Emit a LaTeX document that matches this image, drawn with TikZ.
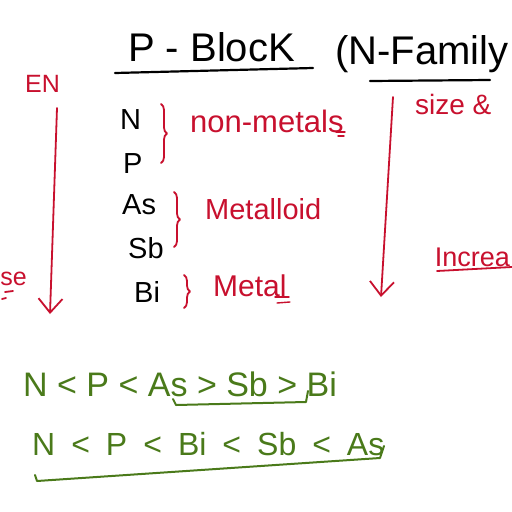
\documentclass[tikz,border=0pt]{standalone}
\usepackage{fontspec}
\setmainfont{Liberation Sans}
\usetikzlibrary{arrows.meta,decorations.pathreplacing}
\definecolor{inkred}{RGB}{200,16,46}
\definecolor{inkgreen}{RGB}{74,122,26}
\newcommand\fsz[1]{\fontsize{#1}{#1}\selectfont}
\newcommand\gp{\hspace{0.5em}}
\begin{document}
\begin{tikzpicture}[x=1pt,y=-1pt,
  txt/.style={inner sep=0pt,anchor=base west},
  blk/.style={txt,text=black},
  rd/.style={txt,text=inkred},
  gr/.style={txt,text=inkgreen},
  redline/.style={draw=inkred,line width=1.8pt,line cap=round,line join=round},
  blkline/.style={draw=black,line width=2.2pt,line cap=round},
  grline/.style={draw=inkgreen,line width=2pt,line cap=round,line join=round},
  downarrow/.style={redline,-{Straight Barb[length=14pt,width=24pt,line width=1.8pt]}},
  bracestyle/.style={redline,decorate,decoration={brace,amplitude=6pt}}]
\useasboundingbox (0,0) rectangle (512,512);
\clip (0,0) rectangle (512,512);
\fill[white] (0,0) rectangle (512,512);

% title
\node[blk,font=\fsz{40}] (title) at (128,61) {P - BlocK};
\node[blk,font=\fsz{40}] (family) at (335,64) {(N-Family};
\draw[blkline] (115,73) -- (313,68);
\draw[blkline] (370,81) -- (490,80);

% left arrow: electronegativity
\node[rd,font=\fsz{25}] (en) at (25,92) {EN};
\coordinate (enTop) at (57,108);
\coordinate (enBot) at (50,314);
\draw[downarrow] (enTop) -- (enBot);
\node[rd,font=\fsz{25},anchor=base east] (decr) at (27,285) {se};
\draw[redline] (5,292) -- (13,291);
\draw[redline] (2,299) -- (6,298);

% right arrow: size
\node[rd,font=\fsz{28}] (size) at (415,114) {size \&};
\coordinate (szTop) at (393,97);
\coordinate (szBot) at (381,297);
\draw[downarrow] (szTop) -- (szBot);
\node[rd,font=\fsz{27},anchor=base east] (incr) at (510,266) {Increa};
\draw[redline] (437,271) -- (512,267);

% elements
\node[blk,font=\fsz{29}] (N) at (120,129) {N};
\node[blk,font=\fsz{29}] (P) at (123,173) {P};
\node[blk,font=\fsz{29}] (As) at (122,214) {As};
\node[blk,font=\fsz{29}] (Sb) at (128,258) {Sb};
\node[blk,font=\fsz{29}] (Bi) at (134,302) {Bi};

% braces
\coordinate (b1t) at (161,104);
\coordinate (b1b) at (161,163);
\draw[bracestyle] (b1t) -- (b1b);
\coordinate (b2t) at (174,192);
\coordinate (b2b) at (174,247);
\draw[bracestyle] (b2t) -- (b2b);
\coordinate (b3t) at (184,275);
\coordinate (b3b) at (184,308);
\draw[bracestyle] (b3t) -- (b3b);

% labels
\node[rd,font=\fsz{31}] (nonmet) at (190,132) {non-metals};
\draw[redline,line width=1.4pt] (336,132) -- (345,132);
\draw[redline,line width=1.4pt] (338,136) -- (344,136);
\node[rd,font=\fsz{29}] (metalloid) at (205,219) {Metalloid};
\node[rd,font=\fsz{30}] (metal) at (213,296) {Metal};
\draw[redline,line width=1.4pt] (275,297) -- (289,297);
\draw[redline,line width=1.4pt] (277,303) -- (290,302);

% green comparisons
\node[gr,font=\fsz{34}] (row1) at (23,396) {N < P < As > Sb > Bi};
\draw[grline] (173,399) -- (176,405) -- (306,402) -- (308,391);
\node[gr,font=\fsz{32}] (row2) at (32,455) {N\gp<\gp P\gp<\gp Bi\gp<\gp Sb\gp<\gp As};
\draw[grline] (35,475) -- (37,481) -- (380,458) -- (384,446);
\end{tikzpicture}
\end{document}
